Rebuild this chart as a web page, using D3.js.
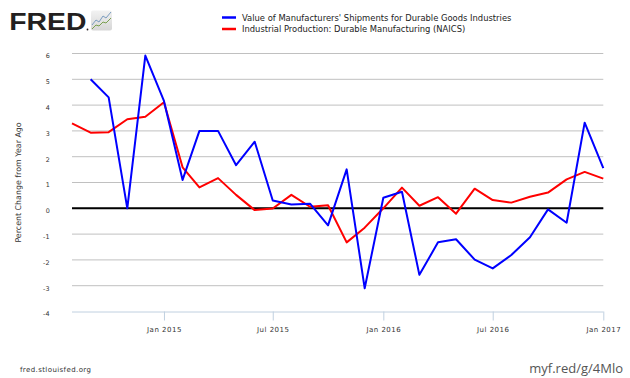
<!DOCTYPE html>
<html><head><meta charset="utf-8">
<script src="https://cdn.jsdelivr.net/npm/d3@7"></script>
<style>body{margin:0;background:#fff}svg{display:block}</style>
</head><body><svg id="c" width="630" height="378"></svg>
<script>
const blueName = "Value of Manufacturers' Shipments for Durable Goods Industries";
const redName = "Industrial Production: Durable Manufacturing (NAICS)";
const blueStart = "2014-09-01";
const blueValues = [5.0,4.3,0.0,5.92,4.16,1.1,3.0,3.0,1.67,2.58,0.3,0.15,0.18,-0.66,1.51,-3.1,0.41,0.64,-2.58,-1.32,-1.2,-1.99,-2.33,-1.81,-1.12,-0.04,-0.56,3.32,1.56];
const redStart = "2014-08-01";
const redValues = [3.29,2.93,2.95,3.45,3.55,4.11,1.59,0.81,1.17,0.52,-0.07,-0.01,0.52,0.06,0.12,-1.32,-0.75,0.0,0.8,0.1,0.43,-0.21,0.76,0.32,0.22,0.45,0.61,1.12,1.41,1.15];
const yTicks = [6,5,4,3,2,1,0,-1,-2,-3,-4];
const xTickDates = ["2015-01-01","2015-07-01","2016-01-01","2016-07-01","2017-01-01"];
const xTickLabels = ["Jan 2015","Jul 2015","Jan 2016","Jul 2016","Jan 2017"];

const parse = d3.utcParse("%Y-%m-%d");
function series(start, vals){
  const s = parse(start);
  return vals.map((v,i)=>({date:d3.utcMonth.offset(s,i), value:v}));
}
const blue = series(blueStart, blueValues);
const red = series(redStart, redValues);

const svg = d3.select("#c");
const x = d3.scaleUtc().domain([parse("2014-08-01"), parse("2017-01-01")]).range([72, 603.3]);
const y = d3.scaleLinear().domain([-4,6]).range([311.5, 53.5]);
const font = "'DejaVu Sans',sans-serif";

// gridlines
svg.append("g").selectAll("line").data(yTicks.filter(d=>d!==-4)).join("line")
  .attr("x1",72).attr("x2",603.3).attr("y1",d=>y(d)).attr("y2",d=>y(d))
  .attr("stroke","#c0c0c0").attr("stroke-width",1);
// bottom axis
const xa = svg.append("g").attr("transform","translate(0,"+y(-4)+")")
  .call(d3.axisBottom(x).tickValues(xTickDates.map(parse)).tickFormat((d,i)=>xTickLabels[i]).tickSizeOuter(0).tickSize(9));
xa.select(".domain").attr("stroke","#c0d0e0").attr("d","M72,0.5H603.3");
xa.selectAll(".tick line").attr("stroke","#c0d0e0");
xa.selectAll(".tick text").attr("font-family",font).attr("font-size","7px").attr("letter-spacing","0.5px")
  .attr("fill","#333").attr("y",20).attr("dy",0);

// y labels
svg.append("g").selectAll("text").data(yTicks).join("text")
  .attr("x",50).attr("y",d=>y(d)+4.8).attr("text-anchor","end")
  .attr("font-family",font).attr("font-size","6.4px").attr("letter-spacing","0.3px").attr("fill","#333").text(d=>d);
svg.append("text").attr("transform","translate(21,"+y(1)+") rotate(-90)")
  .attr("text-anchor","middle").attr("font-family",font).attr("font-size","7.9px").attr("fill","#333")
  .text("Percent Change from Year Ago");

// zero line
svg.append("line").attr("x1",72).attr("x2",603.3).attr("y1",y(0)).attr("y2",y(0))
  .attr("stroke","#000").attr("stroke-width",2);

const line = d3.line().x(d=>x(d.date)).y(d=>y(d.value));
svg.append("path").datum(red).attr("d",line).attr("fill","none").attr("stroke","#ff0000").attr("stroke-width",2).attr("stroke-linejoin","round");
svg.append("path").datum(blue).attr("d",line).attr("fill","none").attr("stroke","#0000ff").attr("stroke-width",2).attr("stroke-linejoin","round");

// legend
const leg = [{n:blueName,c:"#0000ff",y:17.5},{n:redName,c:"#ff0000",y:29}];
leg.forEach(l=>{
  svg.append("line").attr("x1",222).attr("x2",236).attr("y1",l.y).attr("y2",l.y).attr("stroke",l.c).attr("stroke-width",2.5);
  svg.append("text").attr("x",242).attr("y",l.y+3).attr("font-family",font).attr("font-size","8.4px").attr("fill","#222").text(l.n);
});

// FRED logo
svg.append("text").attr("transform","translate(9.3,30) scale(1.18,1)").attr("font-family","'Liberation Sans',Arial,sans-serif").attr("font-weight","bold")
  .attr("font-size","24px").attr("fill","#231f20").text("FRED");
svg.append("circle").attr("cx",87.5).attr("cy",29.5).attr("r",0.9).attr("fill","#231f20");
const grad = svg.append("defs").append("linearGradient").attr("id","lg").attr("x1",0).attr("y1",0).attr("x2",0).attr("y2",1);
grad.append("stop").attr("offset",0).attr("stop-color","#f2f2f2");
grad.append("stop").attr("offset",1).attr("stop-color","#d6d6d6");
svg.append("rect").attr("x",91).attr("y",10.5).attr("width",21).attr("height",20).attr("rx",2).attr("fill","url(#lg)");
svg.append("path").attr("d","M92,25 L96,20 L99,22 L103,16 L106,18 L111,12").attr("fill","none").attr("stroke","#7a9cc0").attr("stroke-width",1);
svg.append("path").attr("d","M92,29 L96,25 L99,26 L103,22 L106,23 L111,18").attr("fill","none").attr("stroke","#7aa050").attr("stroke-width",1);

// footer
svg.append("text").attr("x",20).attr("y",372).attr("font-family",font).attr("font-size","7px").attr("letter-spacing","0.4px").attr("fill","#333").text("fred.stlouisfed.org");
svg.append("text").attr("x",623).attr("y",372.5).attr("text-anchor","end").attr("font-family","'Open Sans',sans-serif").attr("font-size","13px").attr("fill","#555").text("myf.red/g/4Mlo");
</script></body></html>
